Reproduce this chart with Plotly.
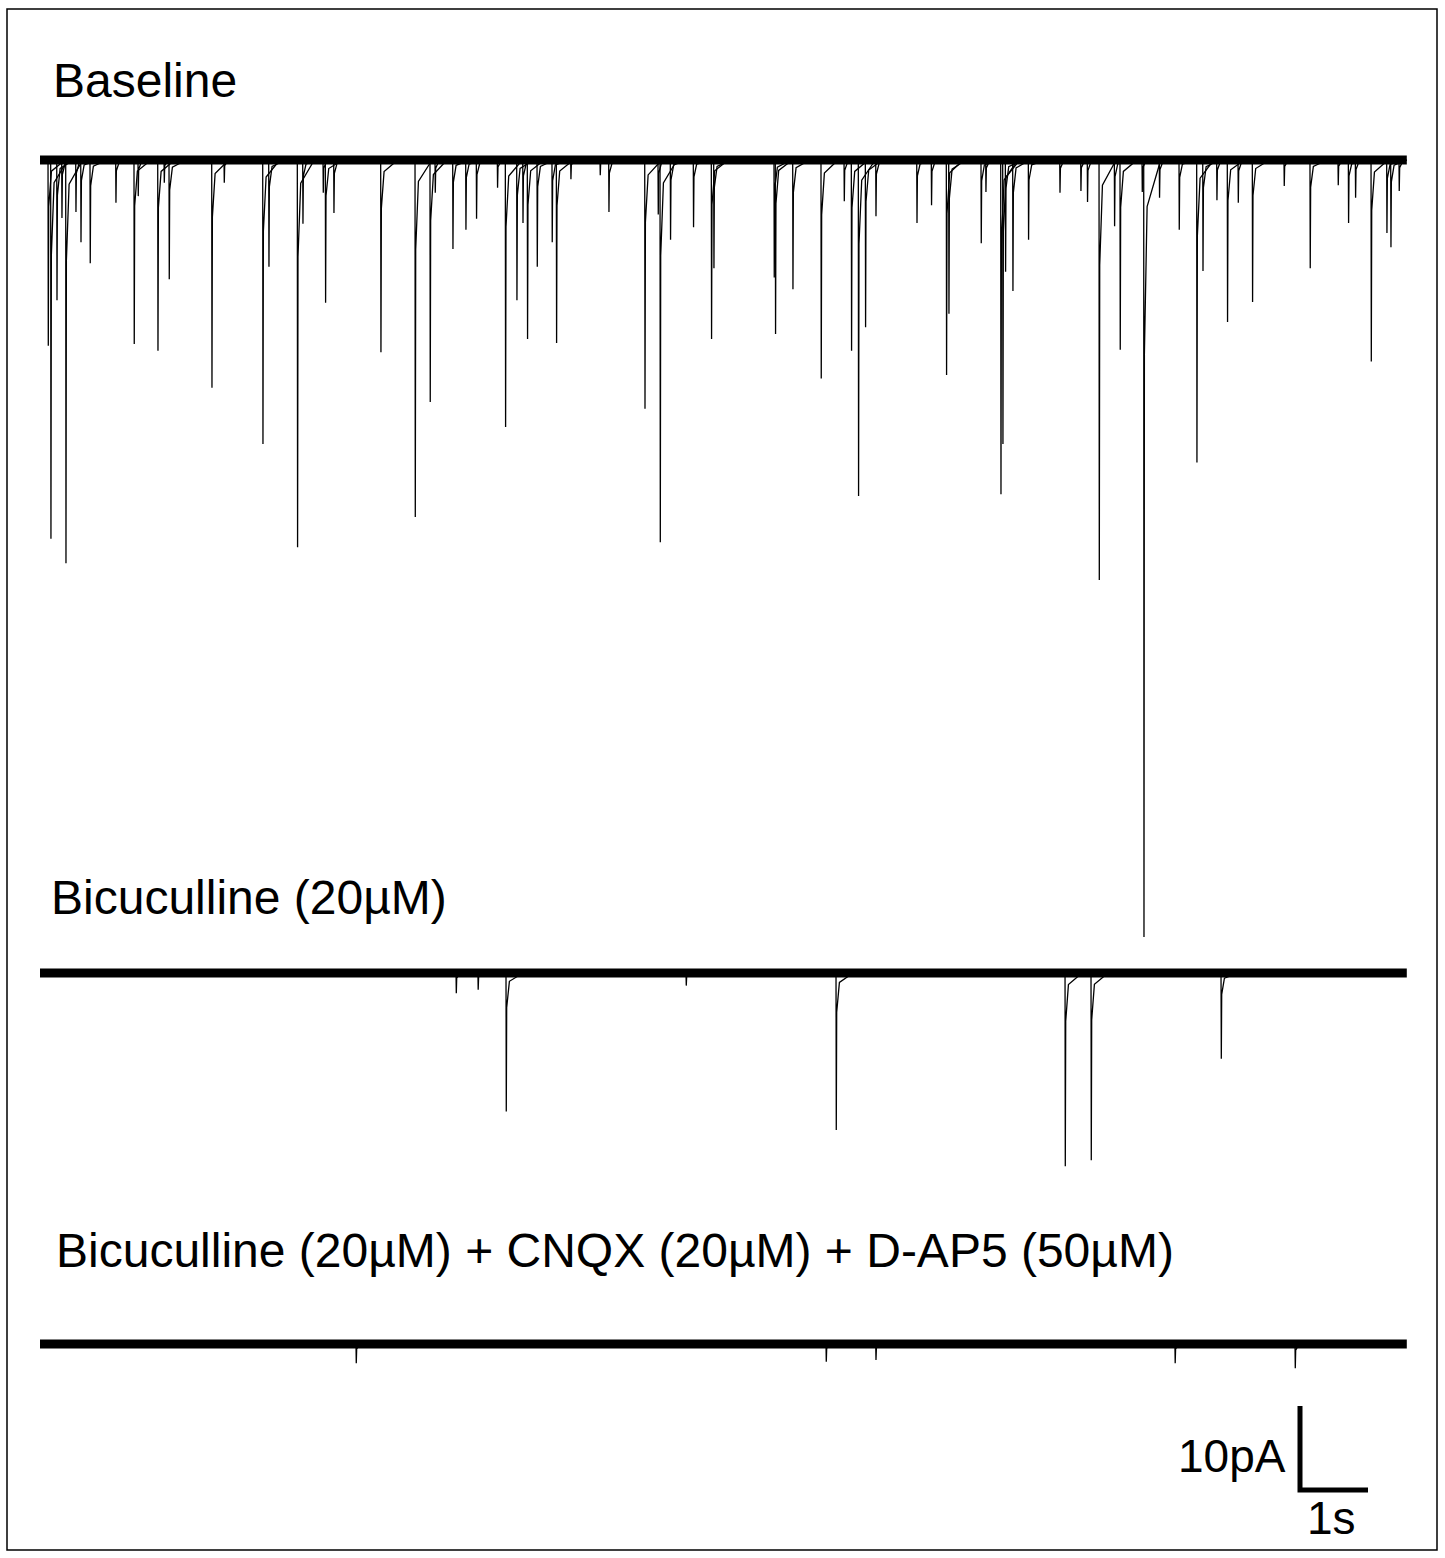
import plotly.graph_objects as go

# ---------------- data ----------------
# time axis in seconds, amplitudes in pA (downward events)
trace_names = ["Baseline", "Bicuculline (20µM)",
               "Bicuculline (20µM) + CNQX (20µM) + D-AP5 (50µM)"]
record_duration = 20.1  # s

baseline_times = [0.118, 0.157, 0.246, 0.319, 0.378, 0.525, 0.599, 0.735, 1.113, 1.382,
                  1.441, 1.731, 1.824, 1.897, 2.525, 2.706, 3.275, 3.363, 3.784, 3.863,
                  4.162, 4.196, 4.319, 5.010, 5.515, 5.735, 5.809, 6.069, 6.260, 6.416,
                  6.725, 6.843, 7.010, 7.099, 7.166, 7.309, 7.529, 7.593, 7.804, 8.235,
                  8.363, 8.893, 9.088, 9.118, 9.269, 9.607, 9.872, 9.907, 10.794, 10.813,
                  11.069, 11.485, 11.824, 11.931, 12.034, 12.137, 12.290, 12.893, 13.107, 13.328,
                  13.363, 13.838, 13.907, 14.128, 14.157, 14.196, 14.304, 14.534, 14.996, 15.304,
                  15.401, 15.574, 15.799, 15.882, 16.206, 16.231, 16.460, 16.750, 17.010, 17.099,
                  17.304, 17.460, 17.618, 17.828, 18.294, 18.676, 19.088, 19.240, 19.343, 19.574,
                  19.804, 19.863, 19.985]
baseline_amps = [22.1, 45.1, 16.7, 6.9, 48.0, 6.2, 9.8, 12.3, 5.1, 21.9,
                 4.3, 22.7, 2.7, 14.2, 27.1, 2.7, 33.8, 12.7, 46.1, 7.6,
                 3.9, 17.0, 6.3, 22.9, 42.5, 28.8, 3.9, 10.6, 8.3, 7.0,
                 3.3, 31.8, 16.7, 7.5, 21.3, 12.7, 9.8, 21.8, 2.3, 1.8,
                 6.2, 29.6, 6.5, 45.5, 9.5, 8.0, 21.3, 12.9, 14.0, 20.7,
                 15.4, 26.0, 4.9, 22.7, 40.0, 19.9, 6.7, 7.5, 5.4, 25.6,
                 18.3, 9.9, 3.8, 39.8, 33.8, 13.3, 15.6, 9.5, 3.9, 3.7,
                 5.0, 50.0, 7.9, 22.6, 3.8, 92.5, 4.5, 8.3, 36.0, 13.2,
                 4.8, 19.3, 5.1, 16.9, 3.1, 12.9, 3.0, 7.5, 4.5, 24.0,
                 8.7, 10.4, 3.7]

bic_times = [6.118, 6.440, 6.853, 9.500, 11.706, 15.074, 15.456, 17.368]
bic_amps = [2.4, 2.0, 16.5, 1.5, 18.7, 23.0, 22.3, 10.2]

block_times = [4.647, 11.559, 12.290, 16.690, 18.456]
block_amps = [2.3, 2.1, 1.9, 2.3, 2.9]

scale_pA = 10   # vertical scale bar
scale_s = 1     # horizontal scale bar

# ---------------- layout constants ----------------
W, H = 1445, 1558
px_per_s = 68.0
px_per_pA = 8.4
x0_px, y0_px = 40, 160
offsets = [0.0, -(973 - 160) / px_per_pA, -(1344 - 160) / px_per_pA]
band_width = 9
spike_width = 1.3
FONT = "Liberation Sans"
LABEL_SIZE = 48
SCALE_SIZE = 46

x_range = [(0 - x0_px) / px_per_s, (W - x0_px) / px_per_s]
y_range = [-(H - y0_px) / px_per_pA, y0_px / px_per_pA]


def event_path(times, amps, off, t_end):
    # sharp onset, fast partial recovery, slow tail back to the holding level
    xs, ys = [], []
    for t, a in zip(times, amps):
        xs += [t, t + 0.004, t + 0.010, t + 0.05, min(t + 0.25, t_end), None]
        ys += [off, off - a, off - 0.25 * a, off - 0.06 * a, off, None]
    return xs, ys


fig = go.Figure()
for times, amps, off in zip([baseline_times, bic_times, block_times],
                            [baseline_amps, bic_amps, block_amps], offsets):
    fig.add_trace(go.Scatter(x=[0, record_duration], y=[off, off], mode="lines",
                             line=dict(color="black", width=band_width),
                             hoverinfo="skip", showlegend=False))
    xs, ys = event_path(times, amps, off, record_duration)
    fig.add_trace(go.Scatter(x=xs, y=ys, mode="lines",
                             line=dict(color="black", width=spike_width),
                             hoverinfo="skip", showlegend=False, connectgaps=False))

# scale bar (L shape): anchored at bottom-left corner
sb_x = (1300 - x0_px) / px_per_s
sb_y = -(1490 - y0_px) / px_per_pA
fig.add_trace(go.Scatter(x=[sb_x, sb_x, sb_x + scale_s],
                         y=[sb_y + scale_pA, sb_y, sb_y], mode="lines",
                         line=dict(color="black", width=5),
                         hoverinfo="skip", showlegend=False))


def px_x(p):
    return p / W


def px_y(p):
    return 1 - p / H


annos = [
    (trace_names[0], 51, 81, "left", LABEL_SIZE),
    (trace_names[1], 49, 897, "left", LABEL_SIZE),
    (trace_names[2], 54, 1250, "left", LABEL_SIZE),
    (f"{scale_pA}pA", 1288, 1456, "right", SCALE_SIZE),
    (f"{scale_s}s", 1331, 1518, "center", SCALE_SIZE),
]
for text, xp, yp, anchor, size in annos:
    fig.add_annotation(x=px_x(xp), y=px_y(yp), xref="paper", yref="paper",
                       text=text, showarrow=False, xanchor=anchor, yanchor="middle",
                       font=dict(family=FONT, size=size, color="black"))

# outer frame
fig.add_shape(type="rect", xref="paper", yref="paper",
              x0=px_x(7), x1=px_x(1437), y0=px_y(1550), y1=px_y(9),
              line=dict(color="black", width=1.5))

fig.update_layout(
    width=W, height=H, autosize=False,
    margin=dict(l=0, r=0, t=0, b=0, pad=0),
    paper_bgcolor="white", plot_bgcolor="white",
    xaxis=dict(range=x_range, visible=False, fixedrange=True),
    yaxis=dict(range=y_range, visible=False, fixedrange=True),
)

fig.write_html("out.html")
